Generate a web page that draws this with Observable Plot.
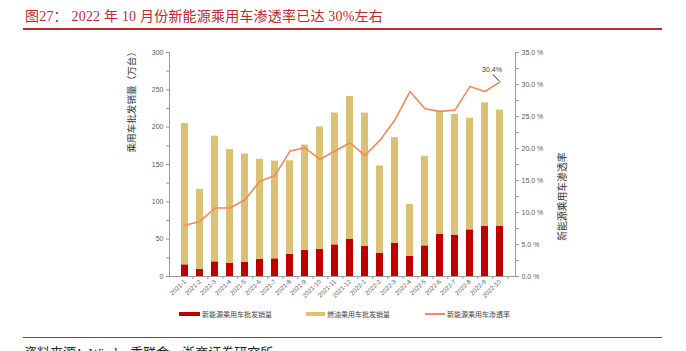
<!DOCTYPE html>
<html><head><meta charset="utf-8">
<script src="https://cdn.jsdelivr.net/npm/d3@7"></script>
<script src="https://cdn.jsdelivr.net/npm/@observablehq/plot@0.6"></script>
<style>
body{margin:0;background:#fff;}
#wrap{position:relative;width:686px;height:351px;overflow:hidden;font-family:"Liberation Serif","Noto Sans CJK SC",serif;}
#chart{position:absolute;left:0;top:0;}
.abs{position:absolute;white-space:nowrap;}
#title{left:25px;top:5px;font-size:14px;color:#C0282D;letter-spacing:0.2px;}
.hline{position:absolute;left:23px;width:639px;height:1.5px;background:#C0282D;}
.leg{position:absolute;top:309px;font-size:7px;color:#444;font-family:"Noto Sans CJK SC",sans-serif;line-height:10px;}
.sw{position:absolute;}
#source{left:24px;top:342px;font-size:13px;color:#222;}
</style></head><body>
<div id="wrap">
  <div id="chart"></div>
  <div id="title" class="abs"></div>
  <div class="hline" style="top:28px"></div>
  <div id="legend"></div>
  <div class="hline" style="top:336.5px"></div>
  <div id="source" class="abs"></div>
</div>
<script>
const titleText = "图27：  2022 年 10 月份新能源乘用车渗透率已达 30%左右";
const sourceText = "资料来源：Wind，乘联会，浙商证券研究所";
const months = ["2021-1","2021-2","2021-3","2021-4","2021-5","2021-6","2021-7","2021-8","2021-9","2021-10","2021-11","2021-12",
                "2022-1","2022-2","2022-3","2022-4","2022-5","2022-6","2022-7","2022-8","2022-9","2022-10"];
const nevSales  = [15.6, 9.6, 19.6, 17.4, 19.2, 22.8, 23.7, 29.5, 34.8, 36.2, 42.4, 50.0,
                   40.6, 31.2, 44.6, 27.2, 41.0, 56.7, 55.4, 62.5, 67.0, 67.4];
const fuelSales = [189.4, 106.9, 168.4, 152.6, 144.8, 134.2, 130.8, 125.5, 141.2, 164.2, 176.6, 191.0,
                   178.2, 116.8, 141.4, 69.2, 120.0, 164.3, 161.6, 149.5, 165.6, 155.4];
const nevRate   = [8.0, 8.6, 10.7, 10.7, 12.0, 14.9, 15.8, 19.6, 20.1, 18.3, 19.6, 20.9,
                   18.9, 21.3, 24.5, 28.9, 26.2, 25.8, 26.0, 29.7, 28.9, 30.4];
const seriesNames = ["新能源乘用车批发销量", "燃油乘用车批发销量", "新能源乘用车渗透率"];
const leftTitle = "乘用车批发销量（万台）";
const rightTitle = "新能源乘用车渗透率";
const leftMax = 300, rightMax = 35;
const leftTicks = d3.range(0, 301, 25);
const rightTicks = d3.range(0, 35.01, 2.5);

const colors = ["#C00000", "#DAC174", "#F28A55"];
const K = leftMax / rightMax;

const barRows = months.flatMap((m, i) => [
  {month: m, series: seriesNames[0], value: nevSales[i]},
  {month: m, series: seriesNames[1], value: fuelSales[i]}
]);
const lineRows = months.map((m, i) => ({month: m, rate: nevRate[i]}));
const last = lineRows[lineRows.length - 1];
const prev = lineRows[lineRows.length - 2];

const W = 686, H = 351, mL = 169, mR = 171, mT = 52, mB = 75;
const halfStep = (W - mL - mR) / months.length / 2;
const tickFont = "Liberation Sans, Arial, sans-serif";

const chart = Plot.plot({
  width: W, height: H,
  marginLeft: mL, marginRight: mR, marginTop: mT, marginBottom: mB,
  style: {background: "transparent", fontFamily: tickFont, color: "#595959"},
  x: {domain: months, padding: 0.53, axis: null, label: null},
  y: {domain: [0, leftMax], axis: null, label: null},
  color: {domain: seriesNames.slice(0, 2), range: colors.slice(0, 2)},
  marks: [
    Plot.barY(barRows, {x: "month", y: "value", fill: "series"}),
    Plot.line(lineRows, {x: "month", y: d => d.rate * K, stroke: colors[2], strokeWidth: 1.6}),
    Plot.frame({anchor: "left", stroke: "#9a9a9a"}),
    Plot.frame({anchor: "right", stroke: "#9a9a9a"}),
    Plot.ruleY([0], {stroke: "#9a9a9a"}),
    Plot.axisY(leftTicks, {anchor: "left", label: null, tickSize: 3, tickPadding: 3, fontSize: 7, stroke: "#9a9a9a",
      tickFormat: v => v % 50 === 0 ? String(v) : ""}),
    Plot.axisY(rightTicks.map(v => v * K), {anchor: "right", label: null, tickSize: 3, tickPadding: 3, fontSize: 7, stroke: "#9a9a9a",
      tickFormat: v => { const p = v / K; return Math.abs(p / 5 - Math.round(p / 5)) < 1e-6 ? p.toFixed(1) + " %" : ""; }}),
    Plot.axisX({label: null, tickSize: 0, tickPadding: 4, tickRotate: -45, fontSize: 6.3}),
    Plot.axisX({label: null, tickSize: 3, text: null, stroke: "#9a9a9a", dx: halfStep}),
    Plot.text([leftTitle], {frameAnchor: "left", rotate: -90, dx: -38, dy: -12, text: d => d, fontSize: 9.6,
      fill: "#333", fontFamily: "Noto Sans CJK SC"}),
    Plot.text([rightTitle], {frameAnchor: "right", rotate: -90, dx: 47, dy: -12, text: d => d, fontSize: 9.8,
      fill: "#333", fontFamily: "Noto Sans CJK SC"}),
    Plot.text([last], {x: "month", y: d => d.rate * K, text: d => d.rate.toFixed(1) + "%", dx: -8, dy: -12,
      fontSize: 7, fill: "#444"}),
    Plot.arrow([{a: prev, b: last}], {x1: d => d.a.month, x2: d => d.b.month,
      y1: d => (d.b.rate + 2.5) * K, y2: d => d.b.rate * K,
      headLength: 0, insetStart: 12, insetEnd: 1.5, stroke: "#333", strokeWidth: 1})
  ]
});
document.getElementById("chart").appendChild(chart);
document.getElementById("title").textContent = titleText;
document.getElementById("source").textContent = sourceText;

// legend
const legend = document.getElementById("legend");
const legItems = [
  {x: 179, w: 21, h: 4, text: 202},
  {x: 306, w: 19, h: 4, text: 327},
  {x: 425, w: 20, h: 1.5, text: 447}
];
seriesNames.forEach((name, i) => {
  const it = legItems[i];
  const sw = document.createElement("div");
  sw.className = "sw";
  sw.style.cssText = `left:${it.x}px;top:${314 - it.h / 2}px;width:${it.w}px;height:${it.h}px;background:${colors[i]};`;
  legend.appendChild(sw);
  const t = document.createElement("div");
  t.className = "leg";
  t.style.left = it.text + "px";
  t.textContent = name;
  legend.appendChild(t);
});
</script>
</body></html>
